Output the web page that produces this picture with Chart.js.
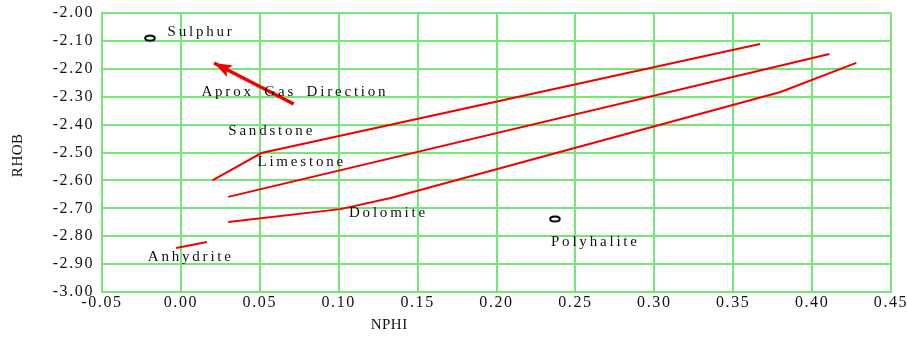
<!DOCTYPE html>
<html>
<head>
<meta charset="utf-8">
<script src="https://cdn.jsdelivr.net/npm/chart.js@4"></script>
<style>
  html, body { margin: 0; padding: 0; background: #fff; }
  #wrap { width: 907px; height: 338px; }
</style>
</head>
<body>
<div id="wrap"><canvas id="myChart" width="907" height="338"></canvas></div>
<script>
// lithology lines (NPHI, RHOB)
const sandstoneX = [0.020, 0.051, 0.367];
const sandstoneY = [-2.600, -2.502, -2.111];
const limestoneX = [0.030, 0.411];
const limestoneY = [-2.659, -2.147];
const dolomiteX = [0.030, 0.101, 0.133, 0.380, 0.428];
const dolomiteY = [-2.749, -2.703, -2.663, -2.283, -2.179];
const anhydriteX = [-0.003, 0.0165];
const anhydriteY = [-2.842, -2.821];
// single minerals: Sulphur, Polyhalite
const mineralX = [-0.0196, 0.237];
const mineralY = [-2.090, -2.738];
// gas arrow, tail then tip
const arrowX = [0.0715, 0.021];
const arrowY = [-2.326, -2.179];
// text labels (left edge, middle)
const labelNames = ["Sulphur", "Aprox Gas Direction", "Sandstone", "Limestone", "Dolomite", "Polyhalite", "Anhydrite"];
const labelX = [-0.0085, 0.013, 0.030, 0.0485, 0.1065, 0.2345, -0.021];
const labelY = [-2.068, -2.283, -2.423, -2.534, -2.717, -2.821, -2.875];

const xTitle = "NPHI";
const yTitle = "RHOB";

const gridGreen = "#76e676";
const serif = "'Liberation Serif', 'DejaVu Serif', serif";

function pts(xs, ys) {
    let out = [];
    for (let i = 0; i < xs.length; i++) out.push({x: xs[i], y: ys[i]});
    return out;
}

// small flat ellipse marker
function ellipseMarker() {
    const c = document.createElement("canvas");
    c.width = 14; c.height = 10;
    const g = c.getContext("2d");
    g.fillStyle = "#fff";
    g.strokeStyle = "#000";
    g.lineWidth = 2;
    g.beginPath();
    g.ellipse(7, 5, 4.8, 2.6, 0, 0, Math.PI * 2);
    g.fill();
    g.stroke();
    return c;
}

function lineSet(label, xs, ys) {
    return {
        label: label,
        data: pts(xs, ys),
        showLine: true,
        borderColor: "#f00000",
        borderWidth: 2,
        pointRadius: 0,
        fill: false
    };
}

const extrasPlugin = {
    id: "extras",
    beforeDraw(chart) {
        // the old renderer spreads its letters out
        chart.ctx.letterSpacing = "1.6px";
    },
    afterDatasetsDraw(chart) {
        const ctx = chart.ctx;
        const xs = chart.scales.x, ys = chart.scales.y;
        // arrow head
        const tx = xs.getPixelForValue(arrowX[1]), ty = ys.getPixelForValue(arrowY[1]);
        const sx = xs.getPixelForValue(arrowX[0]), sy = ys.getPixelForValue(arrowY[0]);
        const ang = Math.atan2(ty - sy, tx - sx);
        const len = 18, half = 6.5;
        ctx.save();
        ctx.fillStyle = "#f00000";
        ctx.translate(tx, ty);
        ctx.rotate(ang);
        ctx.beginPath();
        ctx.moveTo(0, 0);
        ctx.lineTo(-len, -half);
        ctx.lineTo(-len + 4, 0);
        ctx.lineTo(-len, half);
        ctx.closePath();
        ctx.fill();
        ctx.restore();

        // labels
        ctx.save();
        ctx.fillStyle = "#111";
        ctx.font = "15px " + serif;
        ctx.textBaseline = "middle";
        ctx.textAlign = "left";
        ctx.letterSpacing = "2.8px";
        ctx.wordSpacing = "4px";
        for (let i = 0; i < labelNames.length; i++) {
            ctx.fillText(labelNames[i], xs.getPixelForValue(labelX[i]), ys.getPixelForValue(labelY[i]));
        }
        ctx.restore();

        // axis titles
        ctx.save();
        ctx.fillStyle = "#111";
        ctx.font = "15px " + serif;
        ctx.letterSpacing = "0.5px";
        ctx.textAlign = "center";
        ctx.textBaseline = "middle";
        ctx.fillText(xTitle, xs.getPixelForValue(0.132), 325);
        ctx.translate(18, ys.getPixelForValue(-2.51));
        ctx.rotate(-Math.PI / 2);
        ctx.fillText(yTitle, 0, 0);
        ctx.restore();
    }
};

new Chart("myChart", {
    type: "scatter",
    data: {
        datasets: [
            lineSet("Sandstone", sandstoneX, sandstoneY),
            lineSet("Limestone", limestoneX, limestoneY),
            lineSet("Dolomite", dolomiteX, dolomiteY),
            lineSet("Anhydrite", anhydriteX, anhydriteY),
            {
                label: "Gas",
                data: pts(arrowX, arrowY),
                showLine: true,
                borderColor: "#f00000",
                borderWidth: 3.5,
                pointRadius: 0,
                fill: false
            },
            {
                label: "Minerals",
                data: pts(mineralX, mineralY),
                showLine: false,
                pointStyle: ellipseMarker(),
                pointRadius: 5
            }
        ]
    },
    options: {
        responsive: false,
        animation: false,
        layout: {padding: {left: 0, right: 16, top: 13, bottom: 0}},
        plugins: {
            legend: {display: false},
            tooltip: {enabled: false}
        },
        scales: {
            x: {
                type: "linear",
                min: -0.05,
                max: 0.45,
                afterFit: (s) => { s.height = 46; s.paddingLeft = 0; s.paddingRight = 0; },
                border: {color: gridGreen, width: 2},
                grid: {color: gridGreen, lineWidth: 2, drawTicks: false},
                ticks: {
                    stepSize: 0.05,
                    color: "#111",
                    padding: 1,
                    maxRotation: 0,
                    font: {family: serif, size: 16},
                    callback: (v) => v.toFixed(2)
                }
            },
            y: {
                type: "linear",
                min: -3.0,
                max: -2.0,
                afterFit: (s) => { s.width = 102; s.paddingTop = 0; s.paddingBottom = 0; },
                border: {color: gridGreen, width: 2},
                grid: {color: gridGreen, lineWidth: 2, drawTicks: false},
                ticks: {
                    stepSize: 0.1,
                    color: "#111",
                    padding: 8,
                    font: {family: serif, size: 16},
                    callback: (v) => v.toFixed(2)
                }
            }
        }
    },
    plugins: [extrasPlugin]
});
</script>
</body>
</html>
